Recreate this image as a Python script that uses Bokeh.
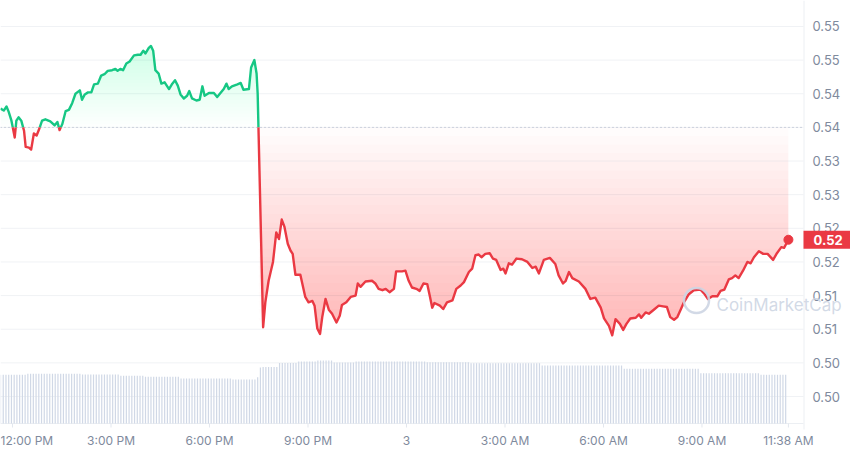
import numpy as np
from bokeh.plotting import figure
from bokeh.models import Range1d
from bokeh.core.properties import value
from bokeh.embed import file_html
from bokeh.resources import INLINE

# ---------------- data ----------------
# minutes since 11:38 AM (start of the 24h window)
time_min = [
    0, 6, 11, 15, 20, 26, 29, 33, 38, 43,
    46, 52, 56, 61, 66, 70, 76, 82, 91, 99,
    104, 108, 113, 119, 125, 131, 137, 145, 149, 154,
    160, 166, 171, 178, 184, 190, 196, 204, 210, 214,
    219, 224, 230, 236, 244, 251, 256, 261, 265, 271,
    275, 279, 283, 289, 294, 300, 308, 314, 319, 324,
    329, 335, 341, 345, 350, 358, 364, 369, 373, 381,
    390, 396, 402, 408, 413, 417, 423, 433, 439, 444,
    454, 458, 464, 468, 470,
    480, 484, 490, 498, 504, 509, 514, 519, 525, 530,
    534, 539, 548, 557, 563, 570, 574, 579, 584, 588,
    594, 600, 606, 614, 620, 624, 632, 640, 649, 653,
    658, 667, 679, 685, 691, 698, 704, 711, 719, 723,
    734, 740, 746, 752, 760, 766, 773, 780, 785, 789,
    793, 803, 809, 816, 826, 833, 841, 847, 856, 862,
    868, 874, 879, 886, 894, 900, 906, 914, 919, 923,
    929, 935, 943, 953, 963, 972, 978, 984, 993, 1004,
    1014, 1020, 1028, 1033, 1039, 1045, 1057, 1069, 1078, 1087,
    1097, 1103, 1112, 1118, 1124, 1132, 1138, 1144, 1151, 1161,
    1167, 1171, 1179, 1185, 1194, 1203, 1211, 1218, 1224, 1231,
    1237, 1243, 1249, 1258, 1267, 1279, 1287, 1293, 1301, 1310,
    1316, 1323, 1331, 1337, 1343, 1349, 1357, 1365, 1371, 1377,
    1386, 1394, 1402, 1412, 1419, 1427, 1432, 1440,
]
price = [
    0.5403, 0.5400, 0.5406, 0.5398, 0.5385, 0.5360, 0.5385, 0.5390, 0.5385, 0.5370,
    0.5346, 0.5345, 0.5342, 0.5366, 0.5363, 0.5371, 0.5385, 0.5387, 0.5384, 0.5378,
    0.5383, 0.5371, 0.5380, 0.5399, 0.5401, 0.5411, 0.5425, 0.5430, 0.5416, 0.5424,
    0.5427, 0.5427, 0.5439, 0.5440, 0.5452, 0.5454, 0.5459, 0.5460, 0.5462, 0.5459,
    0.5462, 0.5460, 0.5470, 0.5473, 0.5482, 0.5483, 0.5483, 0.5489, 0.5485, 0.5493,
    0.5496, 0.5489, 0.5460, 0.5455, 0.5440, 0.5442, 0.5432, 0.5440, 0.5445, 0.5437,
    0.5424, 0.5418, 0.5422, 0.5429, 0.5418, 0.5415, 0.5416, 0.5436, 0.5422, 0.5426,
    0.5426, 0.5420, 0.5426, 0.5432, 0.5440, 0.5432, 0.5436, 0.5439, 0.5441, 0.5431,
    0.5432, 0.5464, 0.5475, 0.5455, 0.5425,
    0.5078, 0.5115, 0.5147, 0.5175, 0.5219, 0.5209, 0.5238, 0.5227, 0.5202, 0.5192,
    0.5187, 0.5156, 0.5156, 0.5123, 0.5115, 0.5117, 0.5110, 0.5076, 0.5068, 0.5093,
    0.5120, 0.5104, 0.5098, 0.5085, 0.5095, 0.5111, 0.5115, 0.5123, 0.5125, 0.5143,
    0.5138, 0.5146, 0.5147, 0.5143, 0.5135, 0.5133, 0.5135, 0.5130, 0.5135, 0.5161,
    0.5161, 0.5162, 0.5147, 0.5137, 0.5135, 0.5132, 0.5143, 0.5142, 0.5123, 0.5107,
    0.5114, 0.5110, 0.5105, 0.5115, 0.5118, 0.5135, 0.5140, 0.5145, 0.5160, 0.5165,
    0.5185, 0.5186, 0.5182, 0.5187, 0.5188, 0.5180, 0.5178, 0.5163, 0.5165, 0.5158,
    0.5173, 0.5171, 0.5180, 0.5179, 0.5175, 0.5166, 0.5168, 0.5158, 0.5178, 0.5181,
    0.5172, 0.5155, 0.5143, 0.5147, 0.5160, 0.5151, 0.5146, 0.5135, 0.5120, 0.5122,
    0.5107, 0.5091, 0.5080, 0.5066, 0.5090, 0.5083, 0.5074, 0.5083, 0.5091, 0.5092,
    0.5097, 0.5092, 0.5100, 0.5098, 0.5104, 0.5110, 0.5109, 0.5108, 0.5093, 0.5089,
    0.5093, 0.5104, 0.5115, 0.5127, 0.5133, 0.5134, 0.5127, 0.5120, 0.5124, 0.5124,
    0.5132, 0.5134, 0.5149, 0.5151, 0.5155, 0.5151, 0.5162, 0.5175, 0.5173, 0.5182,
    0.5191, 0.5187, 0.5187, 0.5178, 0.5188, 0.5197, 0.5196, 0.5208,
]
open_price = 0.5375

# 24h volume (millions USD), one bar every 5 minutes
volume_step_min = 5
volume = [
    97.4, 97.4, 97.4, 97.4, 97.4, 97.4, 97.4, 97.4, 97.4, 97.4, 99.4, 99.4,
    99.4, 99.4, 99.4, 99.4, 99.4, 99.4, 99.4, 99.4, 99.4, 99.4, 99.4, 99.4,
    99.4, 99.4, 99.4, 99.4, 99.4, 99.4, 98.0, 98.0, 98.0, 98.0, 98.0, 98.0,
    98.0, 98.0, 98.0, 98.0, 98.0, 98.0, 98.0, 98.0, 95.4, 95.4, 95.4, 95.4,
    95.4, 95.4, 95.4, 95.4, 95.4, 93.4, 93.4, 93.4, 93.4, 93.4, 93.4, 93.4,
    93.4, 93.4, 93.4, 93.4, 93.4, 93.4, 90.0, 90.0, 90.0, 90.0, 90.0, 90.0,
    90.0, 90.0, 90.0, 90.0, 90.0, 90.0, 90.0, 90.0, 90.0, 90.0, 90.0, 90.0,
    90.0, 88.0, 88.0, 88.0, 88.0, 88.0, 88.0, 88.0, 88.0, 88.0, 92.6, 112.0,
    113.0, 113.0, 113.0, 113.0, 113.0, 113.0, 121.0, 121.0, 121.0, 121.0, 121.0, 121.0,
    121.0, 124.0, 124.0, 124.0, 124.0, 124.0, 124.0, 124.0, 126.0, 126.0, 126.0, 126.0,
    126.0, 126.0, 122.0, 122.0, 122.0, 122.0, 122.0, 122.0, 122.0, 122.0, 124.0, 124.0,
    124.0, 124.0, 124.0, 124.0, 124.0, 124.0, 124.0, 124.0, 124.0, 124.0, 124.0, 124.0,
    124.0, 124.0, 124.0, 124.0, 124.0, 124.0, 124.0, 124.0, 124.0, 124.0, 124.0, 124.0,
    122.6, 122.6, 122.6, 122.6, 122.6, 122.6, 122.6, 122.6, 122.6, 122.6, 122.6, 122.6,
    122.6, 122.6, 122.6, 122.6, 120.6, 120.6, 120.6, 120.6, 120.6, 120.6, 120.6, 120.6,
    120.6, 120.6, 120.6, 120.6, 120.6, 120.6, 120.6, 120.6, 120.6, 120.6, 120.6, 120.6,
    120.6, 120.6, 120.6, 120.6, 120.6, 120.6, 116.0, 116.0, 116.0, 116.0, 116.0, 116.0,
    116.0, 116.0, 116.0, 116.0, 116.0, 116.0, 116.0, 116.0, 116.0, 116.0, 116.0, 116.0,
    116.0, 116.0, 116.0, 116.0, 116.0, 116.0, 116.0, 116.0, 116.0, 116.0, 116.0, 116.0,
    109.4, 109.4, 109.4, 109.4, 109.4, 109.4, 109.4, 109.4, 109.4, 109.4, 109.4, 109.4,
    109.4, 109.4, 109.4, 109.4, 109.4, 109.4, 109.4, 109.4, 109.4, 109.4, 109.4, 109.4,
    109.4, 109.4, 109.4, 109.4, 100.6, 100.6, 100.6, 100.6, 100.6, 100.6, 100.6, 100.6,
    100.6, 100.6, 100.6, 100.6, 100.6, 100.6, 100.6, 100.6, 100.6, 100.6, 100.6, 100.6,
    100.6, 100.6, 97.4, 97.4, 97.4, 97.4, 97.4, 97.4, 97.4, 97.4, 97.4, 97.4,
]

x_tick_min = [22, 202, 382, 562, 742, 922, 1102, 1282, 1440]
x_tick_labels = ["12:00 PM", "3:00 PM", "6:00 PM", "9:00 PM", "3",
                 "3:00 AM", "6:00 AM", "9:00 AM", "11:38 AM"]
y_ticks = [0.4975, 0.5025, 0.5075, 0.5125, 0.5175, 0.5225,
           0.5275, 0.5325, 0.5375, 0.5425, 0.5475, 0.5525]
y_tick_labels = ["0.50", "0.50", "0.51", "0.51", "0.52", "0.52",
                 "0.53", "0.53", "0.54", "0.54", "0.55", "0.55"]

# ---------------- styling / layout ----------------
GREEN = "#16c784"
RED = "#ea3943"
GRAY = "#808a9d"
GRID = "#f0f2f5"
EDGE = "#eceff3"
WM = "#cdd5e3"
FONT = "Inter"

W, H = 850, 453
PLOT_RIGHT = 803             # right edge of the price panel, px
PX_PER_MIN = 32.83 / 60.0
PX_PER_UNIT = 6728.0         # pixels per 1.0 of price
y_top = y_ticks[0] + 396 / PX_PER_UNIT
y_bot = y_top - H / PX_PER_UNIT


def xm(px):
    return px / PX_PER_MIN


def y_at(px):
    return y_top - px / PX_PER_UNIT


VOL_BASE_PX = 423
VOL_PX_PER_UNIT = 0.5

p = figure(width=W, height=H, output_backend="svg", toolbar_location=None,
           x_range=Range1d(0, xm(W)), y_range=Range1d(y_bot, y_top),
           x_axis_location=None, y_axis_location=None,
           min_border_left=0, min_border_top=0, min_border_bottom=0,
           min_border_right=0)
p.outline_line_color = None
p.background_fill_color = "white"
p.border_fill_color = "white"
p.extra_y_ranges = {"vol": Range1d(-(H - VOL_BASE_PX) / VOL_PX_PER_UNIT,
                                   VOL_BASE_PX / VOL_PX_PER_UNIT)}
for g in list(p.xgrid) + list(p.ygrid):
    g.visible = False

n_y = len(y_ticks)
# horizontal grid lines
p.segment(x0=[0] * n_y, x1=[xm(PLOT_RIGHT)] * n_y, y0=y_ticks, y1=y_ticks,
          line_color=GRID, line_width=1)
# panel right edge and bottom edge
p.segment(x0=[xm(PLOT_RIGHT + 0.5)], x1=[xm(PLOT_RIGHT + 0.5)],
          y0=[y_at(0)], y1=[y_at(VOL_BASE_PX + 6)], line_color=EDGE, line_width=1)
p.segment(x0=[0], x1=[xm(PLOT_RIGHT)], y0=[y_at(VOL_BASE_PX)], y1=[y_at(VOL_BASE_PX)],
          line_color=EDGE, line_width=1)

# volume bars
vol_t = [i * volume_step_min for i in range(len(volume))]
p.vbar(x=vol_t, top=volume, bottom=0, width=2.2, y_range_name="vol",
       fill_color="#d0d8e6", line_color=None)
p.segment(x0=x_tick_min, x1=x_tick_min,
          y0=[y_at(VOL_BASE_PX)] * len(x_tick_min),
          y1=[y_at(VOL_BASE_PX + 4)] * len(x_tick_min),
          line_color="#e3e7ee", line_width=1)

# split price line at the open price
t = np.array(time_min, dtype=float)
v = np.array(price, dtype=float)
segs_up, segs_dn = [], []
X, Y = [t[0]], [v[0]]
cx, cy = [t[0]], [v[0]]
up = v[0] >= open_price
for i in range(1, len(t)):
    now_up = v[i] >= open_price
    if now_up != up:
        f = (open_price - v[i - 1]) / (v[i] - v[i - 1])
        xc = t[i - 1] + f * (t[i] - t[i - 1])
        cx.append(xc); cy.append(open_price)
        (segs_up if up else segs_dn).append((cx, cy))
        cx, cy = [xc], [open_price]
        X.append(xc); Y.append(open_price)
        up = now_up
    cx.append(t[i]); cy.append(v[i])
    X.append(t[i]); Y.append(v[i])
(segs_up if up else segs_dn).append((cx, cy))
X = np.array(X); Y = np.array(Y)

# gradient-like fills built from stacked translucent bands
N = 24
up_span = v.max() - open_price
dn_span = open_price - v.min()
a_g = 1 - (1 - 0.20) ** (1 / N)
a_r = 1 - (1 - 0.30) ** (1 / N)
for i in range(N):
    lv = open_price + up_span * i / N
    p.varea(x=X, y1=np.full_like(Y, lv), y2=np.maximum(Y, lv),
            fill_color=GREEN, fill_alpha=a_g)
    lv = open_price - dn_span * i / N
    p.varea(x=X, y1=np.minimum(Y, lv), y2=np.full_like(Y, lv),
            fill_color=RED, fill_alpha=a_r)

# dotted open-price line
p.segment(x0=[0], x1=[xm(PLOT_RIGHT)], y0=[open_price], y1=[open_price],
          line_color="#a6b0c3", line_dash="1 3", line_width=1)

p.multi_line(xs=[s[0] for s in segs_up], ys=[s[1] for s in segs_up],
             line_color=GREEN, line_width=2.4, line_join="round")
p.multi_line(xs=[s[0] for s in segs_dn], ys=[s[1] for s in segs_dn],
             line_color=RED, line_width=2.4, line_join="round")
p.scatter(x=[time_min[-1]], y=[price[-1]], size=9, color=RED)

# x labels
label_y = y_at(440)
p.text(x=x_tick_min[1:], y=[label_y] * (len(x_tick_min) - 1), text=x_tick_labels[1:],
       text_align="center", text_baseline="middle", text_font=value(FONT),
       text_font_size="12px", text_color=GRAY)
p.text(x=[0], y=[label_y], text=x_tick_labels[:1], text_align="left",
       text_baseline="middle", text_font=value(FONT), text_font_size="12px",
       text_color=GRAY)

# y labels (right side)
p.text(x=[xm(PLOT_RIGHT + 9)] * n_y, y=y_ticks, text=y_tick_labels,
       text_align="left", text_baseline="middle", text_font=value(FONT),
       text_font_size="13px", text_color=GRAY)

# watermark
p.scatter(x=[xm(696)], y=[y_at(300)], marker="circle", size=25,
          fill_color=None, line_color=WM, line_width=2.5, line_alpha=0.9)
p.text(x=[xm(716)], y=[y_at(304)], text=["CoinMarketCap"],
       text_font=value(FONT), text_font_size="17px", text_color=WM,
       text_baseline="middle", text_align="left", text_alpha=0.9)

# current price tag
last = price[-1]
p.quad(left=[xm(PLOT_RIGHT)], right=[xm(W)],
       top=[last + 9 / PX_PER_UNIT], bottom=[last - 9 / PX_PER_UNIT],
       fill_color=RED, line_color=None)
p.text(x=[xm(PLOT_RIGHT + 10)], y=[last], text=[f"{last:.2f}"],
       text_font=value(FONT), text_font_size="13px", text_font_style="bold",
       text_color="white", text_baseline="middle", text_align="left")

open("out.html", "w").write(file_html(p, INLINE))
